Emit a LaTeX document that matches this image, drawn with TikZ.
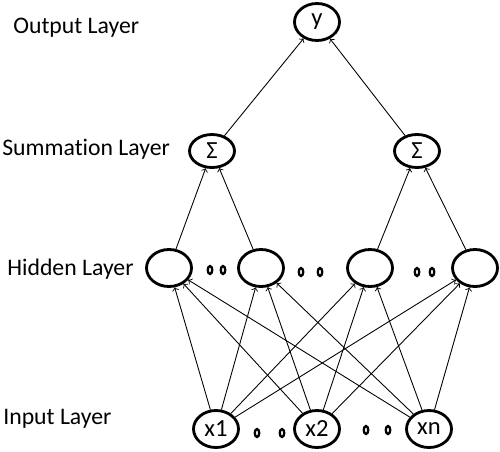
\documentclass[tikz,border=0pt]{standalone}
\usepackage{fontspec}
\setmainfont[Ligatures=NoCommon]{Carlito}
\usetikzlibrary{shapes.geometric}

\begin{document}
\begin{tikzpicture}[
	vertex/.style={ ellipse, draw, line width=1.6pt, inner sep=0pt, minimum width=0.9cm, minimum height=0.74cm, font=\fontsize{14}{16}\selectfont },
	vertexd/.style={ ellipse, draw, line width=1.3pt, inner sep=0pt, minimum width=0.09cm, minimum height=0.16cm },
	layer/.style={ anchor=west, inner sep=0pt, font=\fontsize{13.5}{16}\selectfont },
	link/.style={ ->, line width=0.5pt }
]
\useasboundingbox (0,0) rectangle (10,9.02);

\node at (0.26,8.46) (lo) [layer] {Output Layer};
\node at (0.04,6.04) (ls) [layer] {Summation Layer};
\node at (0.14,3.64) (lh) [layer] {Hidden Layer};
\node at (0.06,0.64) (li) [layer] {Input Layer};

\node at (6.34,8.58) (y) [vertex] {\raisebox{-1pt}{y}};
\node at (4.24,6.00) (s1) [vertex,minimum height=0.66cm] {Σ};
\node at (8.34,6.00) (s2) [vertex,minimum height=0.66cm] {Σ};
\draw[link] (s1) to (y);
\draw[link] (s2) to (y);

\node at (3.38,3.66) (h1) [vertex] {};
\node at (5.22,3.66) (h2) [vertex] {};
\node at (7.40,3.66) (h3) [vertex] {};
\node at (9.50,3.66) (h4) [vertex] {};
\draw[link] (h1) to (s1);
\draw[link] (h2) to (s1);
\draw[link] (h3) to (s2);
\draw[link] (h4) to (s2);

\node at (4.32,0.44) (x1) [vertex] {x1};
\node at (6.34,0.44) (x2) [vertex] {x2};
\node at (8.58,0.44) (xn) [vertex] {xn};
\draw[link] (x1) to (h1);
\draw[link] (x1) to (h2);
\draw[link] (x1) to (h3);
\draw[link] (x1) to (h4);
\draw[link] (x2) to (h1);
\draw[link] (x2) to (h2);
\draw[link] (x2) to (h3);
\draw[link] (x2) to (h4);
\draw[link] (xn) to (h1);
\draw[link] (xn) to (h2);
\draw[link] (xn) to (h3);
\draw[link] (xn) to (h4);

% dots between nodes
\node at (4.20,3.62) (d1) [vertexd] {};
\node at (4.46,3.62) (d2) [vertexd] {};
\node at (6.02,3.58) (d3) [vertexd] {};
\node at (6.40,3.58) (d4) [vertexd] {};
\node at (8.34,3.58) (d5) [vertexd] {};
\node at (8.64,3.58) (d6) [vertexd] {};
\node at (5.14,0.36) (d7) [vertexd] {};
\node at (5.64,0.36) (d8) [vertexd] {};
\node at (7.32,0.42) (d9) [vertexd] {};
\node at (7.76,0.42) (d10) [vertexd] {};

\end{tikzpicture}
\end{document}
